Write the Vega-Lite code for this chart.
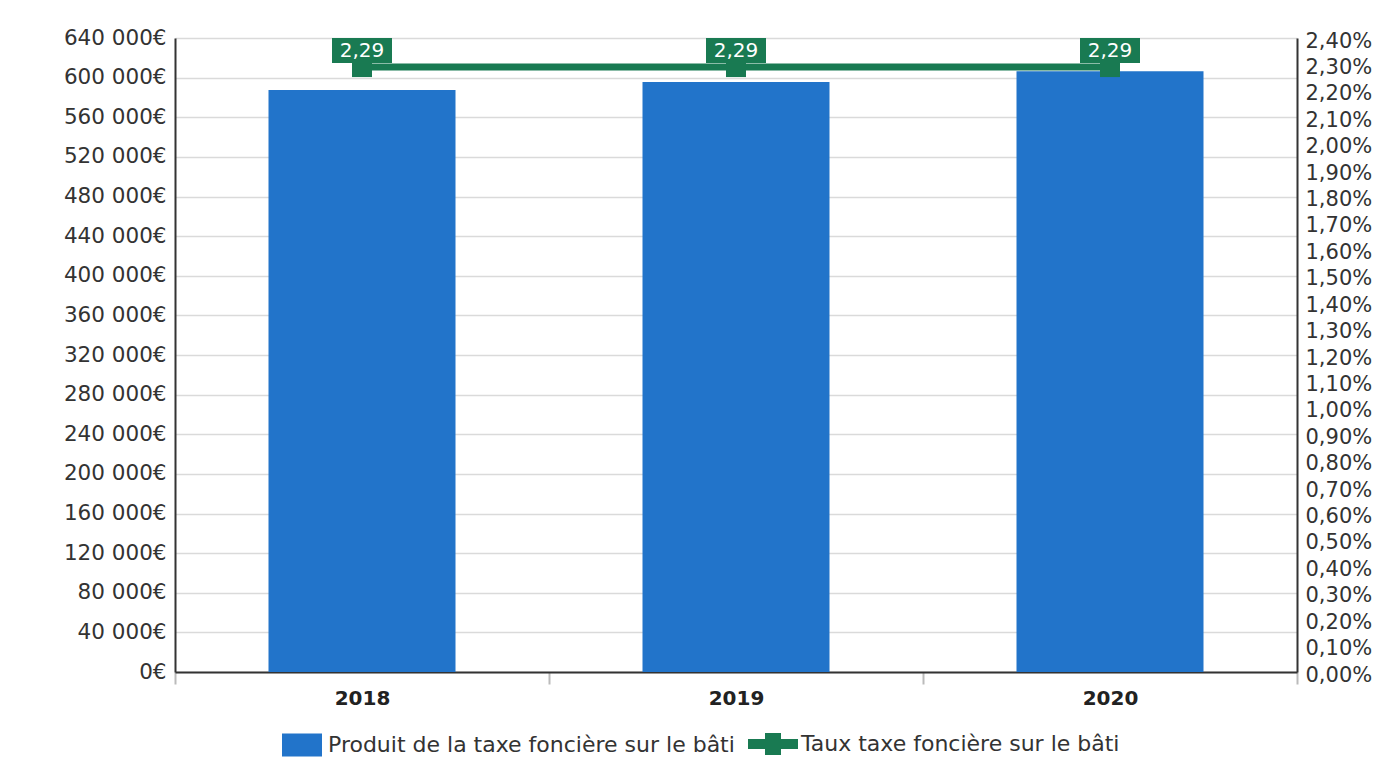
{
  "$schema": "https://vega.github.io/schema/vega-lite/v6.json",
  "autosize": "none",
  "width": 1122,
  "height": 634,
  "padding": {"left": 175, "top": 38, "right": 88, "bottom": 99},
  "background": "white",
  "config": {
    "locale": {"number": {"decimal": ",", "thousands": " ", "grouping": [3], "currency": ["", "€"]}},
    "view": {"stroke": null},
    "font": "DejaVu Sans",
    "axis": {"labelFont": "DejaVu Sans", "domainColor": "#333333", "domainWidth": 2}
  },
  "data": {"values": [
    {"year": "2018", "produit": 587500, "taux": 2.29},
    {"year": "2019", "produit": 595500, "taux": 2.29},
    {"year": "2020", "produit": 606500, "taux": 2.29}
  ]},
  "encoding": {
    "x": {"field": "year", "type": "nominal",
      "scale": {"paddingInner": 0, "paddingOuter": 0},
      "axis": {"title": null, "labelAngle": 0, "labelFontSize": 20, "labelFontWeight": "bold", "labelColor": "#222222",
        "tickBand": "extent", "tickSize": 12, "tickColor": "#bbbbbb", "tickWidth": 2, "labelPadding": 4, "grid": false}}
  },
  "layer": [
    {
      "mark": {"type": "bar", "color": "#2274CA", "width": {"band": 0.5}},
      "encoding": {
        "y": {"field": "produit", "type": "quantitative",
          "scale": {"domain": [0, 640000], "nice": false},
          "axis": {"title": null, "orient": "left", "values": [0,40000,80000,120000,160000,200000,240000,280000,320000,360000,400000,440000,480000,520000,560000,600000,640000],
            "labelExpr": "format(datum.value, ',') + '€'", "labelFontSize": 21.5, "labelColor": "#333333", "ticks": false, "labelPadding": 9,
            "grid": true, "gridColor": "#dadada", "gridWidth": 1.5}},
        "color": {"datum": "Produit de la taxe foncière sur le bâti", "type": "nominal",
          "scale": {"range": ["#2274CA"]},
          "legend": {"title": null, "orient": "none", "legendX": 107, "legendY": 687, "padding": 0, "labelLimit": 0,
            "symbolType": "M-1,-0.575H1V0.575H-1Z", "symbolSize": 1600, "symbolStrokeWidth": 0, "symbolOpacity": 1,
            "labelFontSize": 22, "labelColor": "#333333", "labelOffset": 6, "labelFont": "DejaVu Sans"}}
      }
    },
    {
      "encoding": {
        "y": {"field": "taux", "type": "quantitative",
          "scale": {"domain": [0, 2.4], "nice": false},
          "axis": {"title": null, "orient": "right", "values": [0,0.1,0.2,0.3,0.4,0.5,0.6,0.7,0.8,0.9,1,1.1,1.2,1.3,1.4,1.5,1.6,1.7,1.8,1.9,2,2.1,2.2,2.3,2.4],
            "labelExpr": "format(datum.value, '.2f') + '%'", "labelFontSize": 21, "labelColor": "#333333", "ticks": false, "labelPadding": 8,
            "labelOffset": 3, "grid": false}}
      },
      "layer": [
        {"mark": {"type": "line", "color": "#197A52", "strokeWidth": 7}},
        {"mark": {"type": "point", "shape": "square", "filled": true, "size": 400, "opacity": 1},
          "encoding": {
            "color": {"datum": "Taux taxe foncière sur le bâti", "type": "nominal",
              "scale": {"range": ["#197A52"]},
              "legend": {"title": null, "orient": "none", "legendX": 573, "legendY": 681, "padding": 0, "labelLimit": 0,
                "symbolType": "M-1,-0.2H-0.32V-0.44H0.32V-0.2H1V0.2H0.32V0.44H-0.32V0.2H-1Z", "symbolSize": 2500, "symbolStrokeWidth": 0, "symbolOpacity": 1,
                "labelFontSize": 22, "labelColor": "#333333", "labelOffset": 3, "labelFont": "DejaVu Sans"}}
          }},
        {"mark": {"type": "point", "shape": "M-1,-0.417H1V0.417H-1Z", "filled": true, "size": 3600, "color": "#197A52", "opacity": 1, "yOffset": -16.5}},
        {"mark": {"type": "text", "color": "white", "fontSize": 20, "font": "DejaVu Sans", "baseline": "middle", "yOffset": -16.5},
          "encoding": {"text": {"field": "taux", "type": "quantitative", "format": ".2f"}}}
      ]
    }
  ],
  "resolve": {"scale": {"y": "independent", "color": "independent"}, "legend": {"color": "independent"}}
}
